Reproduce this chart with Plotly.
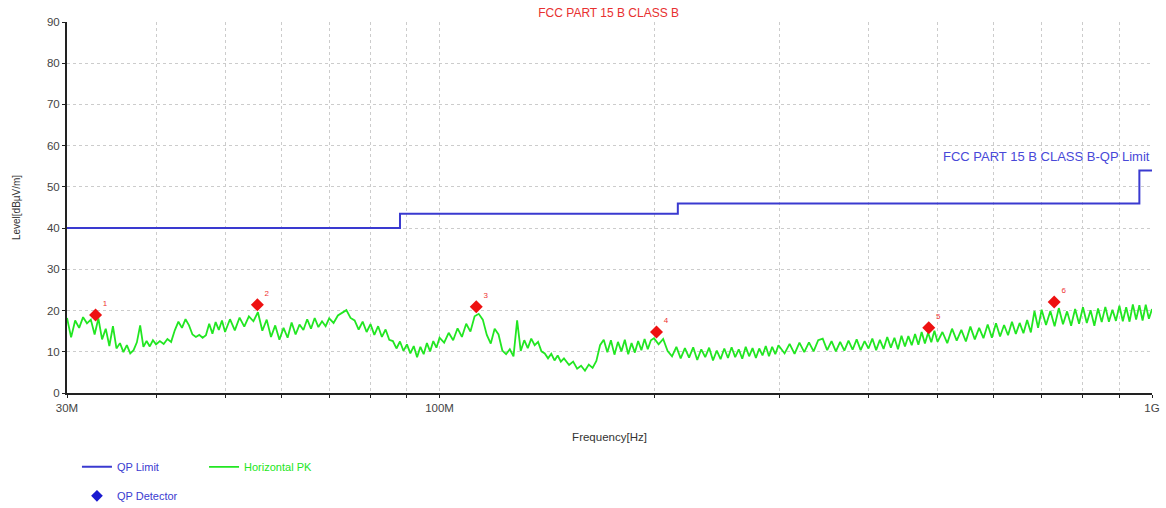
import plotly.graph_objects as go

# ---------------- data ----------------
# Horizontal PK scan (MHz, dBuV/m)
pk_freq_mhz = [
    30.0, 30.4, 30.8, 31.2, 31.6, 32.0, 32.4, 32.8, 33.2, 33.6, 34.0, 34.4, 34.8, 35.2, 35.6, 36.0, 36.4, 36.8, 37.2, 37.6,
    38.0, 38.4, 38.8, 39.2, 39.6, 40.0,
    40.5, 41.0, 41.5, 42.0, 42.5, 43.0, 43.5, 44.0, 44.5, 45.0, 45.5, 46.0, 46.5, 47.0, 47.5, 48.0, 48.5, 49.0, 49.5, 50.0,
    50.8, 51.6, 52.4, 53.2, 54.0, 54.8, 55.6, 56.4, 57.2, 58.0, 58.8, 59.6, 60.4, 61.2, 62.0, 62.8, 63.6, 64.4, 65.2, 66.0,
    66.8, 67.6, 68.4, 69.2, 70.0,
    71, 72, 73, 74, 75, 76, 77, 78, 79, 80, 81, 82, 83, 84, 85, 86, 87, 88, 89, 90, 91, 92, 93, 94, 95, 96, 97, 98, 99, 100,
    101.5, 103, 104.5, 106, 107.5, 109, 110.5, 112, 113.5, 115, 116.5, 118, 119.5, 121, 122.5, 124, 125.5, 127, 128.5, 130,
    131.5, 133, 134.5, 136, 137.5, 139, 140.5, 142, 143.5, 145, 146.5, 148, 149.5,
    152, 154, 156, 158, 160, 162, 164, 166, 168, 170, 172, 174, 176, 178, 180, 182, 184, 186, 188, 190, 192, 194, 196, 198, 200,
    203, 206, 209, 212, 215, 218, 221, 224, 227, 230, 233, 236, 239, 242, 245, 248, 251, 254, 257, 260, 263, 266, 269, 272,
    275, 278, 281, 284, 287, 290, 293, 296, 299,
    305, 310, 315, 320, 325, 330, 335, 340, 345, 350, 355, 360, 365, 370, 375, 380, 385, 390, 395, 400, 405, 410, 415, 420,
    425, 430, 435, 440, 445, 450, 455, 460, 465, 470, 475, 480, 485, 490, 495, 500,
    508, 516, 524, 532, 540, 548, 556, 564, 572, 580, 588, 596, 604, 612, 620, 628, 636, 644, 652, 660, 668, 676, 684, 692, 700,
    710, 720, 730, 740, 750, 760, 770, 780, 790, 800, 810, 820, 830, 840, 850, 860, 870, 880, 890, 900, 910, 920, 930, 940,
    950, 960, 970, 980, 990, 1000,
]
pk_level = [
    18.2, 13.5, 17.6, 15.8, 18.4, 16.9, 17.8, 14.2, 18.1, 13.0, 15.6, 11.4, 16.2, 10.8, 12.1, 9.9, 11.6, 9.6, 10.4, 12.3,
    16.4, 11.2, 12.6, 11.3, 12.8, 11.8,
    12.6, 11.9, 13.1, 12.4, 15.2, 17.3, 15.8, 17.9, 16.4, 14.2, 13.6, 14.1, 13.4, 14.0, 16.8, 14.4, 17.2, 15.3, 17.6, 14.8,
    17.9, 15.2, 18.3, 16.1, 18.6, 17.4, 19.6, 15.1, 17.8, 13.6, 16.4, 12.9, 15.8, 13.4, 17.1, 14.2, 16.6, 15.3, 17.9, 15.6,
    18.2, 16.0, 17.4, 16.2, 18.1,
    17.0, 18.8, 19.4, 20.1, 18.2, 17.6, 15.4, 17.3, 14.8, 16.7, 14.1, 16.2, 13.6, 15.4, 12.9, 12.6, 10.8, 12.5, 10.2, 11.8,
    9.6, 11.4, 8.7, 11.2, 9.4, 12.1, 10.1, 12.6, 11.0, 13.4,
    12.2, 14.6, 12.8, 15.7, 13.6, 16.8, 14.9, 18.6, 19.2, 17.8, 14.1, 12.0, 15.6, 14.2, 10.3, 9.4, 10.6, 8.9, 17.6, 10.2,
    12.8, 10.9, 13.2, 11.6, 12.4, 10.1, 9.6, 8.4, 9.5, 7.9, 9.1, 7.6, 8.4,
    6.8, 7.6, 5.9, 6.6, 5.4, 6.9, 6.1, 7.8, 11.6, 12.9, 9.9, 12.8, 9.3, 12.4, 10.1, 12.9, 9.4, 12.1, 9.8, 12.6, 10.4, 13.1,
    10.6, 12.8, 13.3,
    11.8, 13.1, 10.2, 8.9, 11.2, 8.4, 10.9, 8.6, 11.1, 8.0, 10.6, 8.7, 11.0, 7.9, 10.3, 8.2, 10.8, 8.5, 11.1, 8.7, 10.6, 8.3,
    11.2, 8.9, 10.9, 8.5, 10.8, 9.1, 11.4, 8.9, 11.2, 9.4, 11.6,
    9.6, 11.9, 9.5, 12.2, 9.9, 12.3, 10.1, 12.8, 13.2, 10.4, 12.6, 10.1, 12.4, 10.3, 12.7, 10.5, 13.0, 10.4, 12.6, 10.8,
    13.2, 10.4, 12.9, 10.7, 13.6, 11.0, 13.4, 10.6, 13.9, 11.3, 13.8, 11.6, 14.3, 11.7, 14.8, 12.0, 14.6, 12.3, 15.1, 12.4,
    14.8, 12.1, 15.6, 12.7, 15.3, 12.5, 16.1, 13.0, 15.8, 13.3, 16.6, 13.4, 16.9, 13.7, 16.5, 14.0, 17.3, 14.3, 17.0, 14.5,
    17.7, 14.7, 19.9, 15.8, 20.2,
    16.5, 19.9, 16.2, 20.6, 16.7, 19.8, 16.3, 20.4, 16.8, 20.8, 17.0, 20.1, 16.3, 20.5, 17.2, 20.9, 17.3, 20.2, 17.5, 21.2,
    17.4, 20.8, 17.3, 21.5, 17.8, 21.3, 17.6, 21.4, 18.0, 20.4,
]

# FCC Part 15 B Class B QP limit (step line)
limit_freq_mhz = [30, 88, 88, 216, 216, 960, 960, 1000]
limit_level = [40.0, 40.0, 43.5, 43.5, 46.0, 46.0, 54.0, 54.0]

# QP detector readings
qp_freq_mhz = [32.9, 55.5, 112.6, 201.6, 486.0, 729.0]
qp_level = [18.9, 21.4, 20.9, 14.8, 15.8, 22.1]
qp_labels = ["1", "2", "3", "4", "5", "6"]

# axis ticks
x_tick_mhz = [30, 40, 50, 60, 70, 80, 90, 100, 200, 300, 400, 500, 600, 700, 800, 900, 1000]
x_tick_text = ["30M", "", "", "", "", "", "", "100M", "", "", "", "", "", "", "", "", "1G"]

# ---------------- figure ----------------
to_hz = lambda v: [f * 1e6 for f in v]

BLUE = "#3a3ad0"
GREEN = "#22e622"

fig = go.Figure()

fig.add_trace(go.Scatter(
    x=to_hz(limit_freq_mhz), y=limit_level, mode="lines", name="QP Limit",
    line=dict(color=BLUE, width=2), legend="legend",
))
fig.add_trace(go.Scatter(
    x=to_hz(pk_freq_mhz), y=pk_level, mode="lines", name="Horizontal PK",
    line=dict(color=GREEN, width=1.8), legend="legend3",
))
fig.add_trace(go.Scatter(
    x=to_hz(qp_freq_mhz), y=qp_level, mode="markers+text", name="QP Detector",
    marker=dict(symbol="diamond", color="#ee1111", size=10),
    text=qp_labels, textposition="top right",
    textfont=dict(color="#ee3333", size=8, family="Liberation Sans"),
    showlegend=False,
))
# legend entry for detector (blue diamond, as in the reference legend)
fig.add_trace(go.Scatter(
    x=[None], y=[None], mode="markers", name="QP Detector",
    marker=dict(symbol="diamond", color="#1a1ad0", size=9), legend="legend2",
))

fig.add_annotation(
    x=1.0, xref="paper", xanchor="right", y=57.3, yref="y", yanchor="middle",
    text="FCC PART 15 B CLASS B-QP Limit", showarrow=False,
    font=dict(color="#4848d8", size=13, family="Liberation Sans"),
)

legend_common = dict(orientation="h", xref="container", yref="container", xanchor="left",
                     yanchor="middle", bgcolor="rgba(0,0,0,0)", itemwidth=30)

fig.update_layout(
    width=1166, height=508,
    paper_bgcolor="white", plot_bgcolor="white",
    margin=dict(l=67, r=14, t=22, b=115, autoexpand=False),
    font=dict(family="Liberation Sans", size=11, color="#444"),
    title=dict(text="FCC PART 15 B CLASS B", x=0.522, xanchor="center", y=0.975, yanchor="middle",
               font=dict(color="#e83030", size=12)),
    xaxis=dict(
        type="log", range=[7.4771, 9.0], tickvals=to_hz(x_tick_mhz), ticktext=x_tick_text,
        showgrid=True, gridcolor="#cccccc", griddash="dot", gridwidth=1,
        showline=True, linecolor="#222", linewidth=2, ticks="outside", ticklen=3, tickcolor="#222",
        tickfont=dict(size=11.5),
        title=dict(text="Frequency[Hz]", font=dict(size=11.5, color="#333"), standoff=20),
        zeroline=False,
    ),
    yaxis=dict(
        range=[0, 90], dtick=10, showgrid=True, gridcolor="#cccccc", griddash="dot", gridwidth=1,
        showline=True, linecolor="#222", linewidth=2, ticks="outside", ticklen=3, tickcolor="#222",
        tickfont=dict(size=11.5),
        title=dict(text="Level[dBµV/m]", font=dict(size=10, color="#333"), standoff=24),
        zeroline=False,
    ),
    legend=dict(x=0.066, y=0.081, font=dict(size=11, color=BLUE), **legend_common),
    legend3=dict(x=0.175, y=0.081, font=dict(size=11, color=GREEN), **legend_common),
    legend2=dict(x=0.066, y=0.024, font=dict(size=11, color=BLUE), **legend_common),
)

fig.write_html("out.html")
